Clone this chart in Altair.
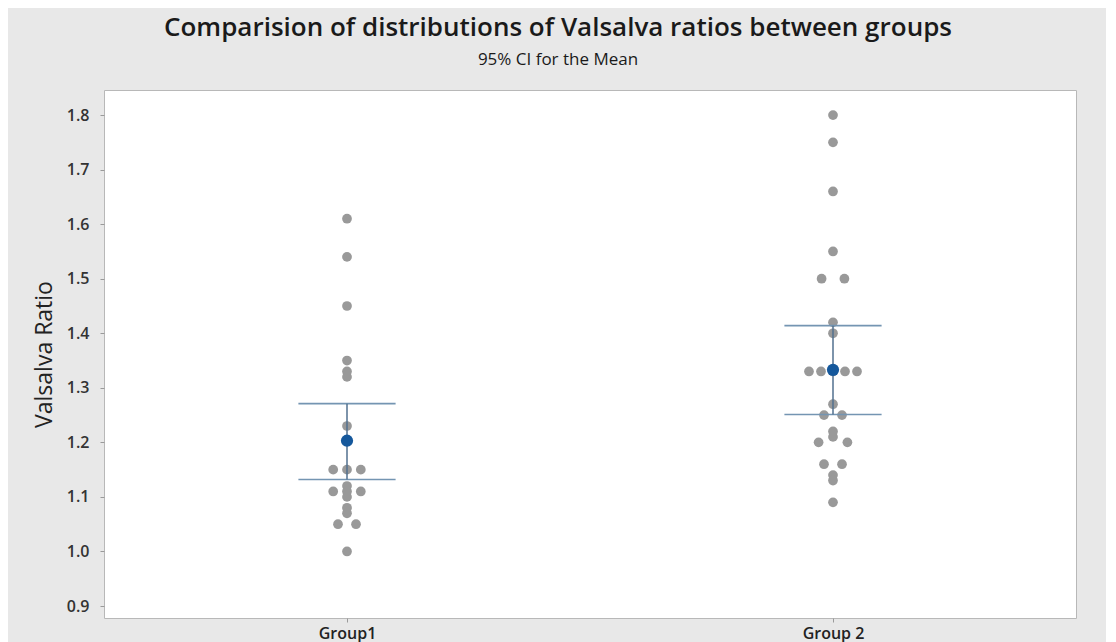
import altair as alt
import pandas as pd

groups = ["Group1", "Group 2"]

group1_values = [1.61, 1.54, 1.45, 1.35, 1.33, 1.32, 1.23, 1.15, 1.15, 1.15,
                 1.12, 1.11, 1.11, 1.11, 1.10, 1.08, 1.07, 1.05, 1.05, 1.00]
group1_slots = [0, 0, 0, 0, 0, 0, 0, -1.15, 0, 1.15,
                0, -1.15, 0, 1.15, 0, 0, 0, -0.75, 0.75, 0]

group2_values = [1.80, 1.75, 1.66, 1.55, 1.50, 1.50, 1.42, 1.40, 1.33, 1.33,
                 1.33, 1.33, 1.33, 1.27, 1.25, 1.25, 1.22, 1.21, 1.20, 1.20,
                 1.16, 1.16, 1.14, 1.13, 1.09]
group2_slots = [0, 0, 0, 0, -0.95, 0.95, 0, 0, -2, -1,
                0, 1, 2, 0, -0.75, 0.75, 0, 0, -1.2, 1.2,
                -0.75, 0.75, 0, 0, 0]

means = [1.203, 1.333]
ci_low = [1.132, 1.251]
ci_high = [1.271, 1.414]

y_ticks = [0.9, 1.0, 1.1, 1.2, 1.3, 1.4, 1.5, 1.6, 1.7, 1.8]

rows = []
for v, s in zip(group1_values, group1_slots):
    rows.append({"group": groups[0], "idx": 1, "slot": s, "value": v})
for v, s in zip(group2_values, group2_slots):
    rows.append({"group": groups[1], "idx": 2, "slot": s, "value": v})
dots = pd.DataFrame(rows)

ci = pd.DataFrame({"group": groups, "idx": [1, 2], "mean": means,
                   "lo": ci_low, "hi": ci_high})

SLOT = 0.0247
CAP = 0.1

x_scale = alt.Scale(domain=[0.5, 2.5], nice=False, zero=False)
y_scale = alt.Scale(domain=[0.878, 1.846], nice=False, zero=False)

label_expr = f"datum.value == 1 ? '{groups[0]}' : '{groups[1]}'"

x_axis = alt.Axis(values=[1, 2], labelExpr=label_expr, title=None, grid=False,
                  domain=False, tickColor="#9a9a9a", tickSize=4,
                  labelFont="Open Sans", labelFontSize=16, labelFontWeight=600,
                  labelColor="#222222", labelPadding=3)
y_axis = alt.Axis(values=y_ticks, format=".1f", title="Valsalva Ratio", grid=False,
                  domain=False, tickColor="#9a9a9a", tickSize=4,
                  labelFont="Open Sans", labelFontSize=16, labelFontWeight=600,
                  labelColor="#333333", labelPadding=11,
                  titleFont="Open Sans", titleFontSize=23, titleFontWeight=500,
                  titleColor="#222222", titlePadding=10)

points = alt.Chart(dots).transform_calculate(
    pos=f"datum.idx + datum.slot * {SLOT}"
).mark_circle(size=95, color="#999999", opacity=1).encode(
    x=alt.X("pos:Q", scale=x_scale, axis=x_axis),
    y=alt.Y("value:Q", scale=y_scale, axis=y_axis),
)

base_ci = alt.Chart(ci).transform_calculate(
    xl=f"datum.idx - {CAP}", xr=f"datum.idx + {CAP}"
)

cap_lo = base_ci.mark_rule(color="#7495b2", strokeWidth=1.6).encode(
    x=alt.X("xl:Q", scale=x_scale), x2="xr:Q",
    y=alt.Y("lo:Q", scale=y_scale),
)
cap_hi = base_ci.mark_rule(color="#7495b2", strokeWidth=1.6).encode(
    x=alt.X("xl:Q", scale=x_scale), x2="xr:Q",
    y=alt.Y("hi:Q", scale=y_scale),
)
vline = base_ci.mark_rule(color="#52718f", strokeWidth=1.5).encode(
    x=alt.X("idx:Q", scale=x_scale),
    y=alt.Y("lo:Q", scale=y_scale), y2="hi:Q",
)
mean_pt = base_ci.mark_circle(size=150, color="#15589c", opacity=1).encode(
    x=alt.X("idx:Q", scale=x_scale),
    y=alt.Y("mean:Q", scale=y_scale),
)

chart = alt.layer(points, cap_lo, cap_hi, vline, mean_pt).properties(
    width=972,
    height=528,
    autosize=alt.AutoSizeParams(type="none"),
    padding={"left": 96, "top": 82, "right": 30, "bottom": 30},
    background="#e8e8e8",
    title=alt.TitleParams(
        text="Comparision of distributions of Valsalva ratios between groups",
        subtitle="95% CI for the Mean",
        anchor="middle", dx=-32, offset=22,
        font="Open Sans", fontSize=26, fontWeight=600, color="#1a1a1a",
        subtitleFont="Open Sans", subtitleFontSize=17, subtitleFontWeight=500,
        subtitleColor="#1a1a1a", subtitlePadding=11,
    ),
).configure_view(fill="white", stroke="#b8b8b8", strokeWidth=1)

chart.save("out.html", embed_options={"renderer": "svg", "actions": False})
